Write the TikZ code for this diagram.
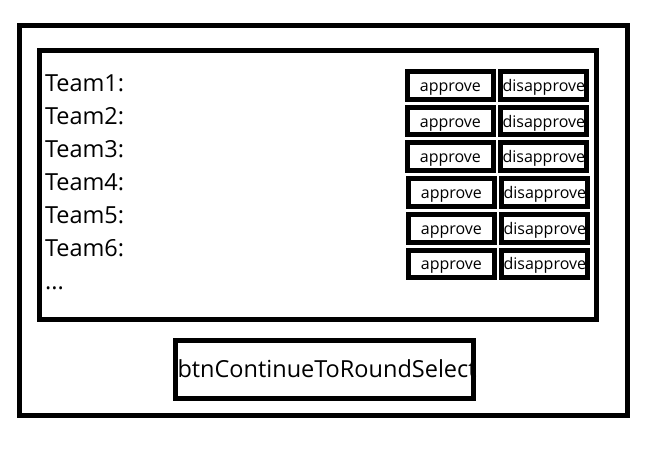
\documentclass[tikz,border=0pt]{standalone}
\usepackage{fontspec}
\setmainfont{Open Sans}
\usetikzlibrary{positioning}

\begin{document}
\begin{tikzpicture}[x=1pt,y=-1pt]
	%defines
	\tikzstyle{window} = [rectangle, draw=black, line width=5pt, inner sep=0pt]
	\tikzstyle{teamLabel} = [inner sep=0pt, outer sep=0pt, text height=24pt, text depth=9pt, text width=100pt, align=left, font=\fontsize{23.5}{28}\selectfont]
	\tikzstyle{approveBtn} = [rectangle, draw=black, line width=5pt, minimum width=85.8pt, minimum height=27.7pt, inner sep=0pt, text height=12pt, text depth=0pt, font=\fontsize{16}{19}\selectfont]
	\tikzstyle{disapproveBtn} = [approveBtn, minimum width=86.5pt]
	\tikzstyle{continueBtn} = [rectangle, draw=black, line width=5pt, minimum width=298pt, minimum height=58pt, inner sep=0pt, text height=15pt, text depth=0pt, font=\fontsize{23.5}{28}\selectfont]
	%background
	\fill[white] (0,0) rectangle (669,451);
	\useasboundingbox (0,0) rectangle (669,451);
	%chart
	\node (window) [window, minimum width=608pt, minimum height=390pt] at (323.5,220.5) {};
	\node (panel) [window, minimum width=557pt, minimum height=269pt] at (318,185) {};
	\node (btnContinue) [continueBtn] at (324.5,369.5) {\makebox[294pt][l]{btnContinueToRoundSelect}};
	\node (team1) [teamLabel, anchor=base west] at (45,91.7) {Team1:};
	\node (team2) [teamLabel, below=0pt of team1] {Team2:};
	\node (team3) [teamLabel, below=0pt of team2] {Team3:};
	\node (team4) [teamLabel, below=0pt of team3] {Team4:};
	\node (team5) [teamLabel, below=0pt of team4] {Team5:};
	\node (team6) [teamLabel, below=0pt of team5] {Team6:};
	\node (more) [teamLabel, below=0pt of team6] {...};
	\node (approve1) [approveBtn] at (450.4,85.4) {approve};
	\node (approve2) [approveBtn, below=3pt of approve1] {approve};
	\node (approve3) [approveBtn, below=3pt of approve2] {approve};
	\node (approve4) [approveBtn, below=3pt of approve3, xshift=1pt] {approve};
	\node (approve5) [approveBtn, below=3pt of approve4] {approve};
	\node (approve6) [approveBtn, below=3pt of approve5] {approve};
	\node (disapprove1) [disapproveBtn, right=2pt of approve1] {\makebox[82pt][l]{disapprove}};
	\node (disapprove2) [disapproveBtn, right=2pt of approve2] {\makebox[82pt][l]{disapprove}};
	\node (disapprove3) [disapproveBtn, right=2pt of approve3] {\makebox[82pt][l]{disapprove}};
	\node (disapprove4) [disapproveBtn, right=2pt of approve4] {\makebox[82pt][l]{disapprove}};
	\node (disapprove5) [disapproveBtn, right=2pt of approve5] {\makebox[82pt][l]{disapprove}};
	\node (disapprove6) [disapproveBtn, right=2pt of approve6] {\makebox[82pt][l]{disapprove}};
\end{tikzpicture}
\end{document}
